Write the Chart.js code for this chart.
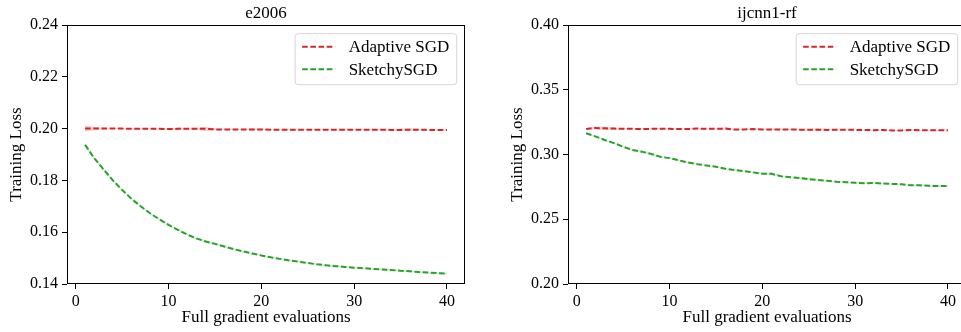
<!DOCTYPE html>
<html>
<head>
<meta charset="utf-8">
<script src="https://cdn.jsdelivr.net/npm/chart.js@4.4.1/dist/chart.umd.min.js"></script>
<style>
  html, body { margin: 0; padding: 0; background: #ffffff; overflow: hidden; width: 961px; height: 332px; }
  .panel { position: absolute; top: 0; width: 480px; height: 332px; }
  #panelLeft { left: 0; }
  #panelRight { left: 501px; }
</style>
</head>
<body>
<div class="panel" id="panelLeft"><canvas id="lossE2006" width="480" height="332"></canvas></div>
<div class="panel" id="panelRight"><canvas id="lossIjcnn" width="480" height="332"></canvas></div>
<script>
// ---- data ----
const epochs = [1,2,3,4,5,6,7,8,9,10,11,12,13,14,15,16,17,18,19,20,
                21,22,23,24,25,26,27,28,29,30,31,32,33,34,35,36,37,38,39,40];

const seriesNames = ['Adaptive SGD', 'SketchySGD'];
const panelTitles = ['e2006', 'ijcnn1-rf'];
const xTicks = [0, 10, 20, 30, 40];
const e2006YTicks = [0.14, 0.16, 0.18, 0.20, 0.22, 0.24];
const ijcnnYTicks = [0.20, 0.25, 0.30, 0.35, 0.40];

// e2006: mean training loss and run-to-run spread
const e2006Adaptive = [0.2000,0.2000,0.2000,0.2000,0.2000,0.1999,0.1999,0.1999,0.1999,0.1998,
                       0.1999,0.1999,0.1999,0.1999,0.1997,0.1997,0.1997,0.1997,0.1997,0.1997,
                       0.1996,0.1996,0.1996,0.1996,0.1996,0.1996,0.1996,0.1996,0.1996,0.1996,
                       0.1996,0.1996,0.1996,0.1995,0.1995,0.1996,0.1996,0.1995,0.1995,0.1995];
const e2006AdaptiveSpread = [0.0012,0.0006,0.0003,0.0002,0.0002,0.0002,0.0002,0.0002,0.0002,0.0003,
                             0.0005,0.0003,0.0004,0.0008,0.0003,0.0002,0.0002,0.0002,0.0004,0.0003,
                             0.0002,0.0002,0.0002,0.0002,0.0002,0.0002,0.0002,0.0002,0.0003,0.0002,
                             0.0002,0.0002,0.0002,0.0003,0.0003,0.0005,0.0003,0.0002,0.0002,0.0002];
const e2006Sketchy = [0.1937,0.1885,0.1842,0.1800,0.1763,0.1729,0.1700,0.1673,0.1650,0.1628,
                      0.1609,0.1591,0.1576,0.1564,0.1555,0.1545,0.1535,0.1526,0.1518,0.1510,
                      0.1503,0.1497,0.1491,0.1486,0.1481,0.1476,0.1472,0.1469,0.1466,0.1463,
                      0.1461,0.1458,0.1456,0.1454,0.1451,0.1449,0.1446,0.1444,0.1442,0.1440];
const e2006SketchySpread = [0.0008,0.0005,0.0004,0.0003,0.0003,0.0003,0.0003,0.0003,0.0003,0.0003,
                            0.0003,0.0003,0.0004,0.0005,0.0004,0.0003,0.0003,0.0003,0.0003,0.0003,
                            0.0003,0.0003,0.0003,0.0003,0.0003,0.0003,0.0003,0.0003,0.0003,0.0003,
                            0.0003,0.0003,0.0004,0.0004,0.0004,0.0003,0.0003,0.0003,0.0003,0.0003];

// ijcnn1-rf: mean training loss and run-to-run spread
const ijcnnAdaptive = [0.3197,0.3205,0.3202,0.3200,0.3199,0.3198,0.3197,0.3198,0.3199,0.3198,
                       0.3196,0.3196,0.3200,0.3198,0.3198,0.3200,0.3193,0.3193,0.3196,0.3193,
                       0.3193,0.3194,0.3193,0.3192,0.3191,0.3192,0.3190,0.3191,0.3192,0.3190,
                       0.3189,0.3188,0.3189,0.3186,0.3186,0.3190,0.3188,0.3187,0.3187,0.3187];
const ijcnnAdaptiveSpread = [0.0004,0.0012,0.0012,0.0008,0.0005,0.0004,0.0004,0.0004,0.0006,0.0004,
                             0.0004,0.0004,0.0006,0.0004,0.0005,0.0010,0.0004,0.0004,0.0008,0.0004,
                             0.0005,0.0004,0.0004,0.0004,0.0006,0.0010,0.0005,0.0004,0.0005,0.0004,
                             0.0004,0.0005,0.0004,0.0004,0.0004,0.0006,0.0004,0.0004,0.0004,0.0008];
const ijcnnSketchy = [0.3164,0.3140,0.3112,0.3088,0.3060,0.3035,0.3022,0.3005,0.2982,0.2972,
                      0.2955,0.2938,0.2925,0.2915,0.2905,0.2890,0.2880,0.2872,0.2862,0.2852,
                      0.2851,0.2832,0.2825,0.2819,0.2810,0.2803,0.2797,0.2790,0.2786,0.2782,
                      0.2778,0.2780,0.2776,0.2773,0.2770,0.2762,0.2762,0.2758,0.2756,0.2757];
const ijcnnSketchySpread = [0.0005,0.0005,0.0005,0.0005,0.0005,0.0006,0.0008,0.0010,0.0006,0.0005,
                            0.0005,0.0005,0.0005,0.0005,0.0005,0.0005,0.0006,0.0005,0.0005,0.0008,
                            0.0010,0.0006,0.0005,0.0008,0.0010,0.0006,0.0005,0.0005,0.0006,0.0005,
                            0.0005,0.0005,0.0006,0.0005,0.0005,0.0005,0.0006,0.0005,0.0006,0.0008];

// ---- styling ----
const FONT = "'Liberation Serif', 'Times New Roman', serif";
const RED = '#d62728';
const GREEN = '#2ca02c';
const RED_BAND = 'rgba(214, 39, 40, 0.22)';
const GREEN_BAND = 'rgba(44, 160, 44, 0.22)';
const DASH = [5.6, 2.6];

Chart.defaults.font.family = FONT;
Chart.defaults.color = '#000000';

function points(values) {
  return epochs.map((x, i) => ({ x: x, y: values[i] }));
}
function offsetPoints(values, spread, sign) {
  return epochs.map((x, i) => ({ x: x, y: values[i] + sign * spread[i] }));
}

// full box around the plotting area
const axesFrame = {
  id: 'axesFrame',
  afterDatasetsDraw(chart) {
    const { ctx, chartArea: a } = chart;
    ctx.save();
    ctx.strokeStyle = '#000000';
    ctx.lineWidth = 1;
    const l = Math.round(a.left) + 0.5, t = Math.round(a.top) + 0.5;
    const r = Math.round(a.right) - 0.5, b = Math.round(a.bottom) - 0.5;
    ctx.strokeRect(l, t, r - l, b - t);
    ctx.restore();
  }
};

// framed legend in the upper right corner of the plotting area
const cornerLegend = {
  id: 'cornerLegend',
  afterDraw(chart) {
    const { ctx, chartArea: a } = chart;
    const items = chart.data.datasets.filter(d => d.label);
    ctx.save();
    ctx.font = '17px ' + FONT;
    const textW = Math.max(...items.map(d => ctx.measureText(d.label).width));
    const padL = 7, lineLen = 33, gap = 13.5, padR = 7.5;
    const boxW = padL + lineLen + gap + textW + padR;
    const boxH = 51;
    const x0 = a.right - 8.3 - boxW;
    const y0 = a.top + 8.7;
    const rad = 3;
    ctx.beginPath();
    ctx.moveTo(x0 + rad, y0);
    ctx.arcTo(x0 + boxW, y0, x0 + boxW, y0 + boxH, rad);
    ctx.arcTo(x0 + boxW, y0 + boxH, x0, y0 + boxH, rad);
    ctx.arcTo(x0, y0 + boxH, x0, y0, rad);
    ctx.arcTo(x0, y0, x0 + boxW, y0, rad);
    ctx.closePath();
    ctx.fillStyle = 'rgba(255,255,255,0.8)';
    ctx.fill();
    ctx.strokeStyle = '#d6d6d6';
    ctx.lineWidth = 1;
    ctx.stroke();
    items.forEach((d, i) => {
      const cy = y0 + 13 + i * 22.6;
      ctx.beginPath();
      ctx.setLineDash(DASH);
      ctx.strokeStyle = d.borderColor;
      ctx.lineWidth = d.borderWidth;
      ctx.moveTo(x0 + padL, cy);
      ctx.lineTo(x0 + padL + lineLen, cy);
      ctx.stroke();
      ctx.setLineDash([]);
      ctx.fillStyle = '#000000';
      ctx.textAlign = 'left';
      ctx.textBaseline = 'middle';
      ctx.fillText(d.label, x0 + padL + lineLen + gap, cy + 1);
    });
    ctx.restore();
  }
};

function buildPanel(canvasId, title, yTicks, adaptive, adaptiveSpread, sketchy, sketchySpread) {
  const yMin = yTicks[0], yMax = yTicks[yTicks.length - 1];
  return new Chart(document.getElementById(canvasId), {
    type: 'line',
    data: {
      datasets: [
        { label: seriesNames[0], data: points(adaptive), borderColor: RED, borderWidth: 2,
          borderDash: DASH, pointRadius: 0, fill: false, tension: 0, order: 0 },
        { label: seriesNames[1], data: points(sketchy), borderColor: GREEN, borderWidth: 2,
          borderDash: DASH, pointRadius: 0, fill: false, tension: 0, order: 0 },
        { data: offsetPoints(adaptive, adaptiveSpread, 1), borderWidth: 0, pointRadius: 0,
          fill: false, tension: 0, order: 2 },
        { data: offsetPoints(adaptive, adaptiveSpread, -1), borderWidth: 0, pointRadius: 0,
          fill: '-1', backgroundColor: RED_BAND, tension: 0, order: 2 },
        { data: offsetPoints(sketchy, sketchySpread, 1), borderWidth: 0, pointRadius: 0,
          fill: false, tension: 0, order: 2 },
        { data: offsetPoints(sketchy, sketchySpread, -1), borderWidth: 0, pointRadius: 0,
          fill: '-1', backgroundColor: GREEN_BAND, tension: 0, order: 2 }
      ]
    },
    options: {
      responsive: false,
      devicePixelRatio: 1,
      animation: false,
      layout: { padding: { left: 0, right: 15, top: 0, bottom: 0 } },
      plugins: {
        legend: { display: false },
        tooltip: { enabled: false },
        title: {
          display: true, text: title, fullSize: false, color: '#000000',
          font: { family: FONT, size: 17, weight: 'normal' },
          padding: { top: 3, bottom: 1.6 }
        }
      },
      scales: {
        x: {
          type: 'linear', min: -0.95, max: 41.95,
          afterBuildTicks: s => { s.ticks = xTicks.map(v => ({ value: v })); },
          afterFit: s => { s.height = 48; },
          ticks: { color: '#000000', font: { family: FONT, size: 16 }, padding: 3,
                   maxRotation: 0, callback: v => String(v) },
          grid: { drawOnChartArea: false, drawTicks: true, tickLength: 5, color: '#000000' },
          border: { display: false },
          title: { display: true, text: 'Full gradient evaluations', color: '#000000',
                   font: { family: FONT, size: 17 }, padding: { top: 0, bottom: 4 } }
        },
        y: {
          type: 'linear', min: yMin, max: yMax,
          afterBuildTicks: s => { s.ticks = yTicks.map(v => ({ value: v })); },
          afterFit: s => { s.width = 67; },
          ticks: { color: '#000000', font: { family: FONT, size: 16 }, padding: 4,
                   callback: v => Number(v).toFixed(2) },
          grid: { drawOnChartArea: false, drawTicks: true, tickLength: 5, color: '#000000' },
          border: { display: false },
          title: { display: true, text: 'Training Loss', color: '#000000',
                   font: { family: FONT, size: 17 }, padding: { top: 6.5, bottom: 0 } }
        }
      }
    },
    plugins: [axesFrame, cornerLegend]
  });
}

buildPanel('lossE2006', panelTitles[0], e2006YTicks,
           e2006Adaptive, e2006AdaptiveSpread, e2006Sketchy, e2006SketchySpread);
buildPanel('lossIjcnn', panelTitles[1], ijcnnYTicks,
           ijcnnAdaptive, ijcnnAdaptiveSpread, ijcnnSketchy, ijcnnSketchySpread);
</script>
</body>
</html>
